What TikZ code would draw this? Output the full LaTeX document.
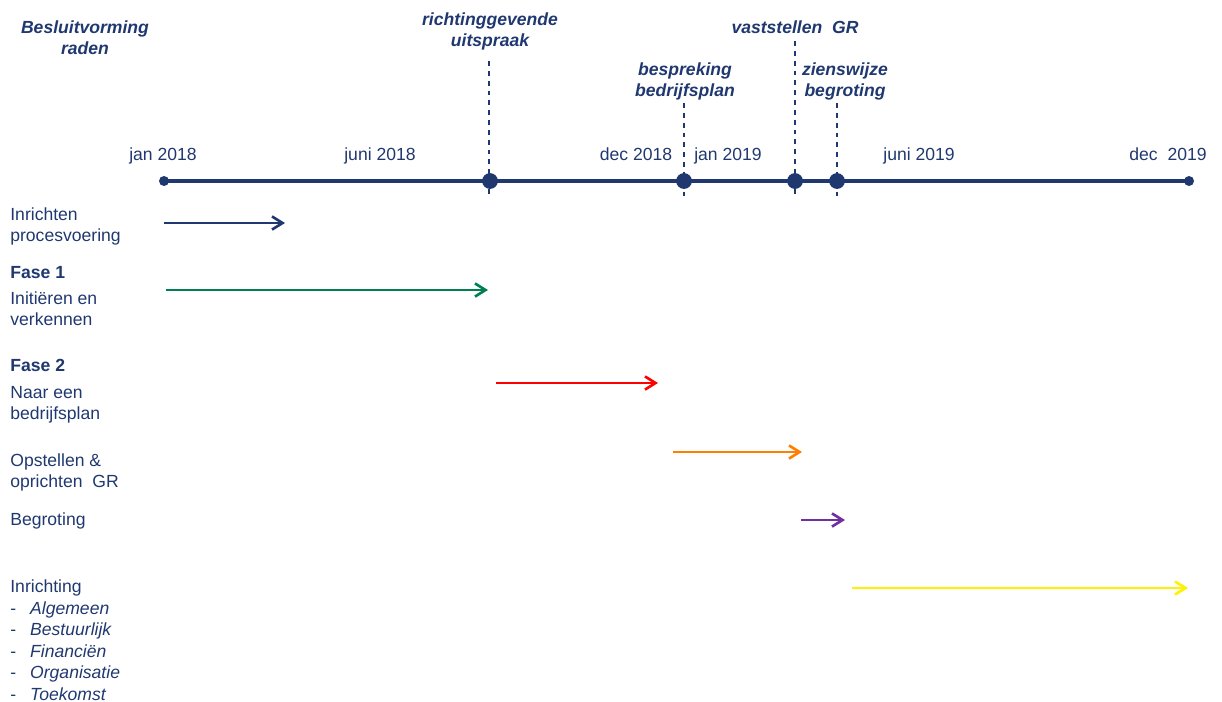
\documentclass[tikz,border=0pt]{standalone}
\usepackage{fontspec}
\setmainfont{Liberation Sans}
\usetikzlibrary{arrows.meta}

\definecolor{navy}{RGB}{32,56,112}
\definecolor{fasegreen}{RGB}{0,128,80}
\definecolor{faseorange}{RGB}{255,128,0}
\definecolor{fasepurple}{RGB}{112,48,160}

\newcommand{\streep}[1]{\makebox[11.3pt][l]{-}\textit{#1}}

\tikzset{
  tekst/.style={inner sep=0pt, text=navy, font=\fontsize{10}{12.2}\selectfont},
  datum/.style={tekst, anchor=base},
  mijlpaal/.style={tekst, anchor=base, align=center, font=\fontsize{10}{11.9}\selectfont\bfseries\itshape},
  stap/.style={tekst, anchor=base west, align=left},
  fase/.style={stap, font=\fontsize{10}{12.2}\selectfont\bfseries},
  punt/.style={circle, fill=navy, inner sep=0pt, minimum size=#1},
  punt/.default=9pt,
  as/.style={navy, line width=2.3pt},
  peil/.style={navy, line width=0.6pt, dash pattern=on 2.8pt off 2.8pt},
  pijl/.style={line width=1.5pt, -{Straight Barb[length=6pt,width=7.5pt]}},
}

\begin{document}
\begin{tikzpicture}[x=0.02cm, y=-0.02cm]
\useasboundingbox (0,0) rectangle (1222,701);

% peillijnen bij de mijlpalen
\coordinate (p1t) at (489,61);  \coordinate (p1b) at (489,197);
\coordinate (p2t) at (684,103); \coordinate (p2b) at (684,197);
\coordinate (p3t) at (795,41);  \coordinate (p3b) at (795,197);
\coordinate (p4t) at (837,103); \coordinate (p4b) at (837,197);
\draw[peil] (p1t) -- (p1b);
\draw[peil] (p2t) -- (p2b);
\draw[peil] (p3t) -- (p3b);
\draw[peil] (p4t) -- (p4b);

% tijdas
\node[punt=5.7pt] (begin) at (164,181) {};
\node[punt=5.7pt] (eind) at (1189,181) {};
\draw[as] (begin.center) -- (eind.center);
\node[punt] (m1) at (490,181) {};
\node[punt] (m2) at (684,181) {};
\node[punt] (m3) at (795,181) {};
\node[punt] (m4) at (837,181) {};

\node[datum] (jan18) at (163,160) {jan 2018};
\node[datum] (juni18) at (380,160) {juni 2018};
\node[datum] (dec18) at (636,160) {dec 2018};
\node[datum] (jan19) at (728,160) {jan 2019};
\node[datum] (juni19) at (919,160) {juni 2019};
\node[datum] (dec19) at (1168,160) {dec~~2019};

% mijlpalen (base = laatste regel)
\node[mijlpaal] (besluit) at (85,54) {Besluitvorming\\raden};
\node[mijlpaal] (richting) at (490,46) {richtinggevende\\uitspraak};
\node[mijlpaal] (bespreking) at (685,96) {bespreking\\bedrijfsplan};
\node[mijlpaal] (vaststellen) at (795,33) {vaststellen~~GR};
\node[mijlpaal] (zienswijze) at (845,96) {zienswijze\\begroting};

% stappen
\node[stap] (inrichten) at (10,241.5) {Inrichten\\procesvoering};
\node[fase] (fase1) at (10,278) {Fase 1};
\node[stap] (initieren) at (10,325.5) {Initiëren en\\verkennen};
\node[fase] (fase2) at (10,371) {Fase 2};
\node[stap] (naar) at (10,419.5) {Naar een\\bedrijfsplan};
\node[stap] (opstellen) at (10,487.5) {Opstellen \&\\oprichten~~GR};
\node[stap] (begroting) at (10,525) {Begroting};
\node[stap] (inrichting) at (10,700) {Inrichting\\\streep{Algemeen}\\\streep{Bestuurlijk}\\\streep{Financiën}\\\streep{Organisatie}\\\streep{Toekomst}};

\coordinate (a1) at (164,223); \coordinate (b1) at (285,223);
\coordinate (a2) at (166,290); \coordinate (b2) at (488,290);
\coordinate (a3) at (496,383); \coordinate (b3) at (658,383);
\coordinate (a4) at (673,452); \coordinate (b4) at (802,452);
\coordinate (a5) at (801,520); \coordinate (b5) at (845,520);
\coordinate (a6) at (852,588); \coordinate (b6) at (1188,588);
\draw[pijl, navy] (a1) -- (b1);
\draw[pijl, fasegreen] (a2) -- (b2);
\draw[pijl, red] (a3) -- (b3);
\draw[pijl, faseorange] (a4) -- (b4);
\draw[pijl, fasepurple] (a5) -- (b5);
\draw[pijl, yellow] (a6) -- (b6);
\end{tikzpicture}
\end{document}
